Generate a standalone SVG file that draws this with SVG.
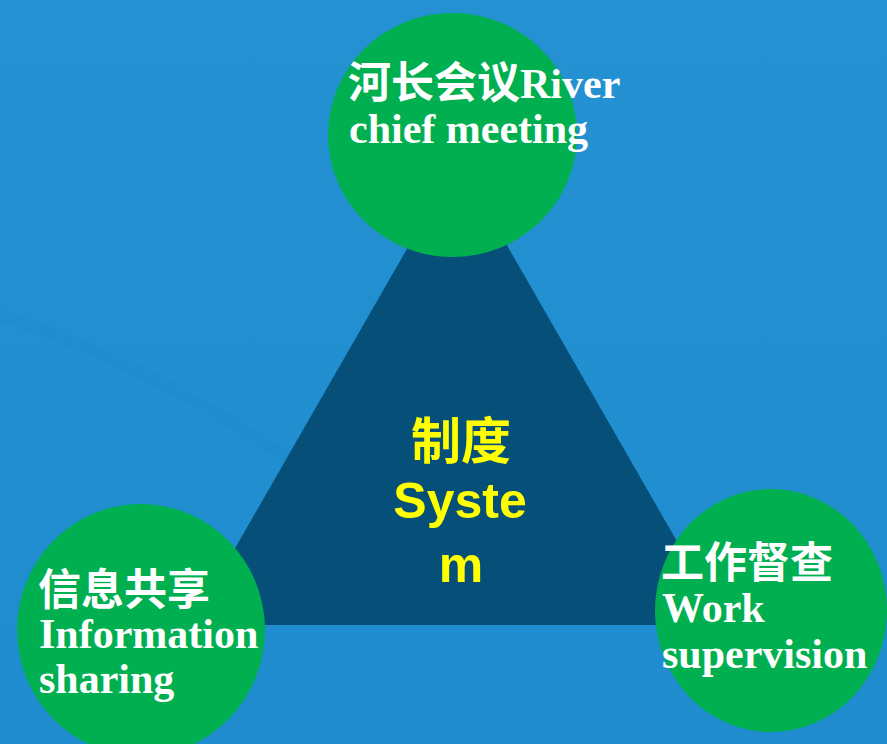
<svg xmlns="http://www.w3.org/2000/svg" width="887" height="744" viewBox="0 0 887 744">
  <defs>
    <linearGradient id="bg" x1="0" y1="0" x2="0" y2="1">
      <stop offset="0" stop-color="#2491D2"/>
      <stop offset="1" stop-color="#1E8CCE"/>
    </linearGradient>
    <style>
      .circle { fill: #00B050; }
      .lbl { fill: #FFFFFF; font-weight: bold; font-size: 42px; font-family: "Liberation Serif", "Noto Sans CJK SC", serif; }
      .cjk { font-family: "Noto Sans CJK SC", "Noto Sans CJK TC", sans-serif; font-weight: bold; font-size: 43px; }
      .ctr { fill: #FFFF00; font-weight: bold; font-size: 50px; font-family: "Liberation Sans", "Noto Sans CJK SC", sans-serif; text-anchor: middle; }
    </style>
  </defs>
  <rect x="0" y="0" width="887" height="744" fill="url(#bg)"/>
  <path d="M0,315 Q150,365 290,460" fill="none" stroke="#1D88C8" stroke-width="12" opacity="0.2"/>

  <g id="system">
    <polygon points="458,160 191,625 725,625" fill="#054F78"/>
    <text class="ctr" x="461" y="459"><tspan font-family="'Noto Sans CJK SC', sans-serif">制度</tspan></text>
    <text class="ctr" x="460" y="518">Syste</text>
    <text class="ctr" x="461" y="582">m</text>
  </g>

  <g id="connectors"></g>

  <g id="river-chief-meeting">
    <ellipse class="circle" cx="452.5" cy="135" rx="124.5" ry="122"/>
    <text class="lbl" x="348" y="98"><tspan class="cjk">河长会议</tspan>River</text>
    <text class="lbl" x="349" y="143">chief meeting</text>
  </g>

  <g id="information-sharing">
    <ellipse class="circle" cx="141" cy="630" rx="124" ry="126"/>
    <text class="lbl" x="38" y="605"><tspan class="cjk">信息共享</tspan></text>
    <text class="lbl" x="39" y="648">Information</text>
    <text class="lbl" x="39" y="693">sharing</text>
  </g>

  <g id="work-supervision">
    <ellipse class="circle" cx="771" cy="610.5" rx="116" ry="121.5"/>
    <text class="lbl" x="661" y="578"><tspan class="cjk">工作督查</tspan></text>
    <text class="lbl" x="662" y="622">Work</text>
    <text class="lbl" x="662" y="668">supervision</text>
  </g>
</svg>
